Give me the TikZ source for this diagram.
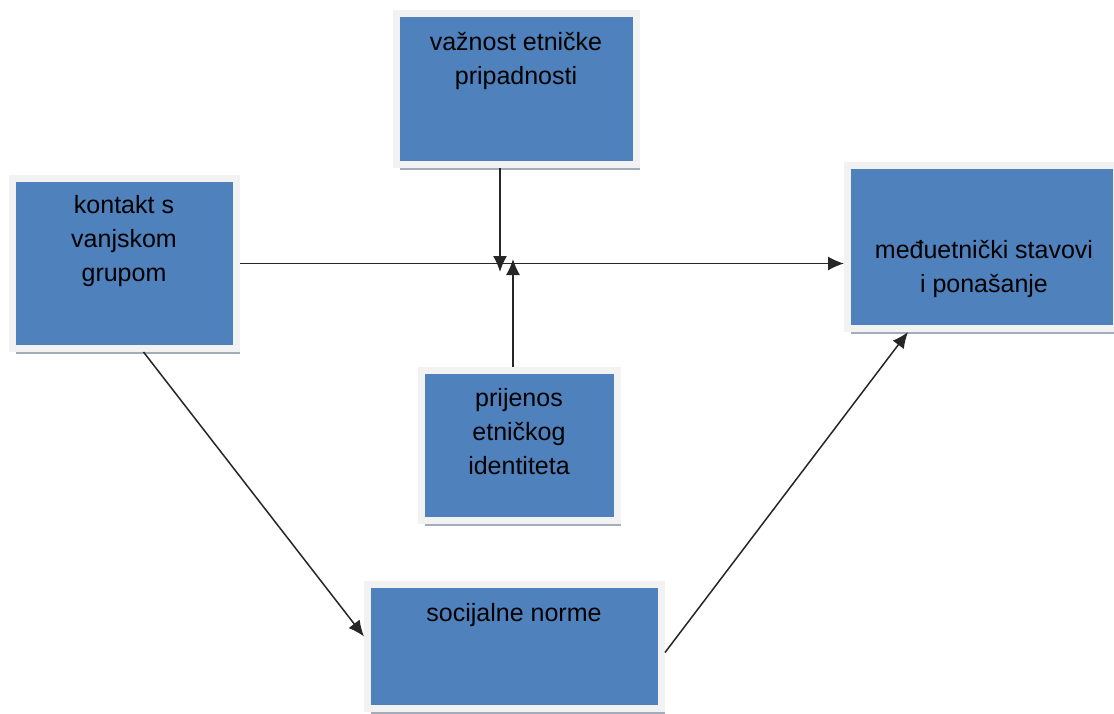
\documentclass[tikz,border=0pt]{standalone}
\usepackage{fontspec}
\setmainfont{Liberation Sans}
\usetikzlibrary{arrows.meta,positioning,shadows}
\definecolor{okvirplava}{HTML}{4F81BD}
\definecolor{rubsiva}{HTML}{F2F2F2}
\definecolor{sjenasiva}{HTML}{A3ACBB}
\tikzset{
  okvir/.style={rectangle,fill=okvirplava,draw=rubsiva,line width=3.5pt,
    drop shadow={shadow xshift=1.5pt,shadow yshift=-2.5pt,fill=sjenasiva,opacity=1}},
  natpis/.style={align=center,inner sep=0pt,font=\fontsize{12.5}{17}\selectfont},
  strelica/.style={-{Latex[length=8pt,width=7pt]},line width=0.75pt,black!85}
}

\begin{document}
\begin{tikzpicture}[x=0.5pt,y=-0.5pt]
\useasboundingbox (0,0) rectangle (1114,713);
% \draw[help lines,step=50] (0,0) grid (1114,713);
\node (vaznost) [okvir,minimum width=120pt,minimum height=75.5pt] at (516.5,89) {};
\node (kontakt) [okvir,minimum width=112pt,minimum height=85pt] at (124.5,263.5) {};
\node (prijenos) [okvir,minimum width=98pt,minimum height=75pt] at (519.5,445.5) {};
\node (socijalne) [okvir,minimum width=147pt,minimum height=62pt] at (514.5,646.5) {};
\node (medju) [okvir,minimum width=134.5pt,minimum height=81.5pt] at (982,247) {};
%
\node (vaznost-t) [natpis] at (516,61) {važnost etničke\\pripadnosti};
\node (kontakt-t) [natpis] at (124,241) {kontakt s\\vanjskom\\grupom};
\node (prijenos-t) [natpis] at (519,432) {prijenos\\etničkog\\identiteta};
\node (socijalne-t) [natpis] at (514,615) {socijalne norme};
\node (medju-t) [natpis] at (984,269) {međuetnički stavovi\\i ponašanje};
%
\coordinate (dolje) at (500,272);
\coordinate (gore) at (513,259);
\path[strelica] (kontakt.east) edge (medju.west |- kontakt.east);
\path[strelica] (vaznost.south -| dolje) edge (dolje);
\path[strelica] (prijenos.north -| gore) edge (gore);
\path[strelica] ([xshift=9.5pt]kontakt.south) edge ([yshift=5pt]socijalne.west);
\path[strelica] ([yshift=-3pt]socijalne.east) edge ([xshift=-37pt]medju.south);
\end{tikzpicture}
\end{document}
